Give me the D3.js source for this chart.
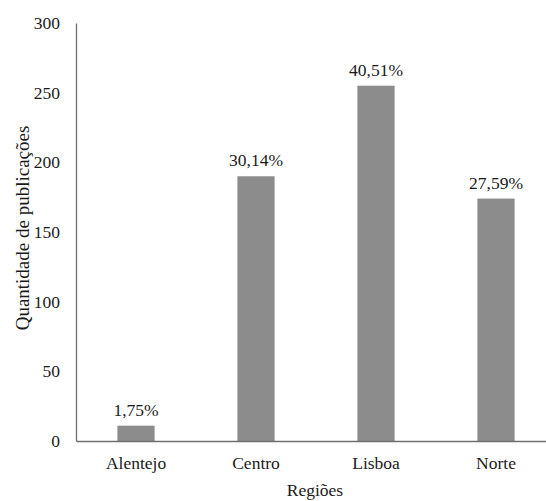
<!DOCTYPE html>
<html>
<head>
<meta charset="utf-8">
<script src="https://cdn.jsdelivr.net/npm/d3@7"></script>
</head>
<body style="margin:0; background:#fff">
<svg id="chart" width="546" height="501"></svg>
<script>
"use strict";

// donnees du graphique
var regioes = ["Alentejo", "Centro", "Lisboa", "Norte"];
var quantidades = [11, 190, 255, 174];
var percentagens = ["1,75%", "30,14%", "40,51%", "27,59%"];
var yTicks = [0, 50, 100, 150, 200, 250, 300];

var svg = d3.select("#chart");
var margin = { left: 76, top: 23 };
var serif = "'Liberation Serif'";
var fs = "17.5px";

var x = d3.scaleBand()
  .domain(regioes)
  .range([margin.left, margin.left + 480])
  .paddingInner(0.69)
  .paddingOuter(0.345);

var y = d3.scaleLinear()
  .domain([0, 300])
  .range([441, margin.top]);

// axe Y
var yAxis = svg.append("g")
  .attr("transform", "translate(" + margin.left + ",0)")
  .call(d3.axisLeft(y).tickValues(yTicks).tickSize(0).tickPadding(16));
yAxis.select(".domain").attr("stroke", "#6f6f6f").attr("stroke-width", 1.3);
yAxis.selectAll("text")
  .style("font-family", serif)
  .style("font-size", fs)
  .attr("fill", "#1a1a1a");

// barres
svg.selectAll(".bar")
  .data(regioes)
  .enter()
  .append("rect")
  .attr("class", "bar")
  .attr("x", function(d){ return x(d); })
  .attr("width", x.bandwidth())
  .attr("y", function(d,i){ return y(quantidades[i]); })
  .attr("height", function(d,i){ return y(0) - y(quantidades[i]); })
  .attr("fill", "#8c8c8c");

// etiquettes des barres
svg.selectAll(".lbl")
  .data(regioes)
  .enter()
  .append("text")
  .attr("class", "lbl")
  .attr("x", function(d){ return x(d) + x.bandwidth() / 2; })
  .attr("y", function(d,i){ return y(quantidades[i]) - 10; })
  .attr("text-anchor", "middle")
  .attr("fill", "#1a1a1a")
  .style("font-family", serif)
  .style("font-size", fs)
  .text(function(d,i){ return percentagens[i]; });

// axe X
var xAxis = svg.append("g")
  .attr("transform", "translate(0," + y(0) + ")")
  .call(d3.axisBottom(x).tickSize(0).tickPadding(16));
xAxis.select(".domain").attr("stroke", "#6f6f6f").attr("stroke-width", 1.3);
xAxis.selectAll("text")
  .style("font-family", serif)
  .style("font-size", fs)
  .attr("fill", "#1a1a1a");

// titres des axes
svg.append("text")
  .attr("x", 315)
  .attr("y", 496)
  .attr("text-anchor", "middle")
  .attr("fill", "#1a1a1a")
  .style("font-family", serif)
  .style("font-size", fs)
  .text("Regiões");

svg.append("text")
  .attr("transform", "translate(29,228) rotate(-90)")
  .attr("text-anchor", "middle")
  .attr("fill", "#1a1a1a")
  .style("font-family", serif)
  .style("font-size", "19px")
  .text("Quantidade de publicações");
</script>
</body>
</html>
